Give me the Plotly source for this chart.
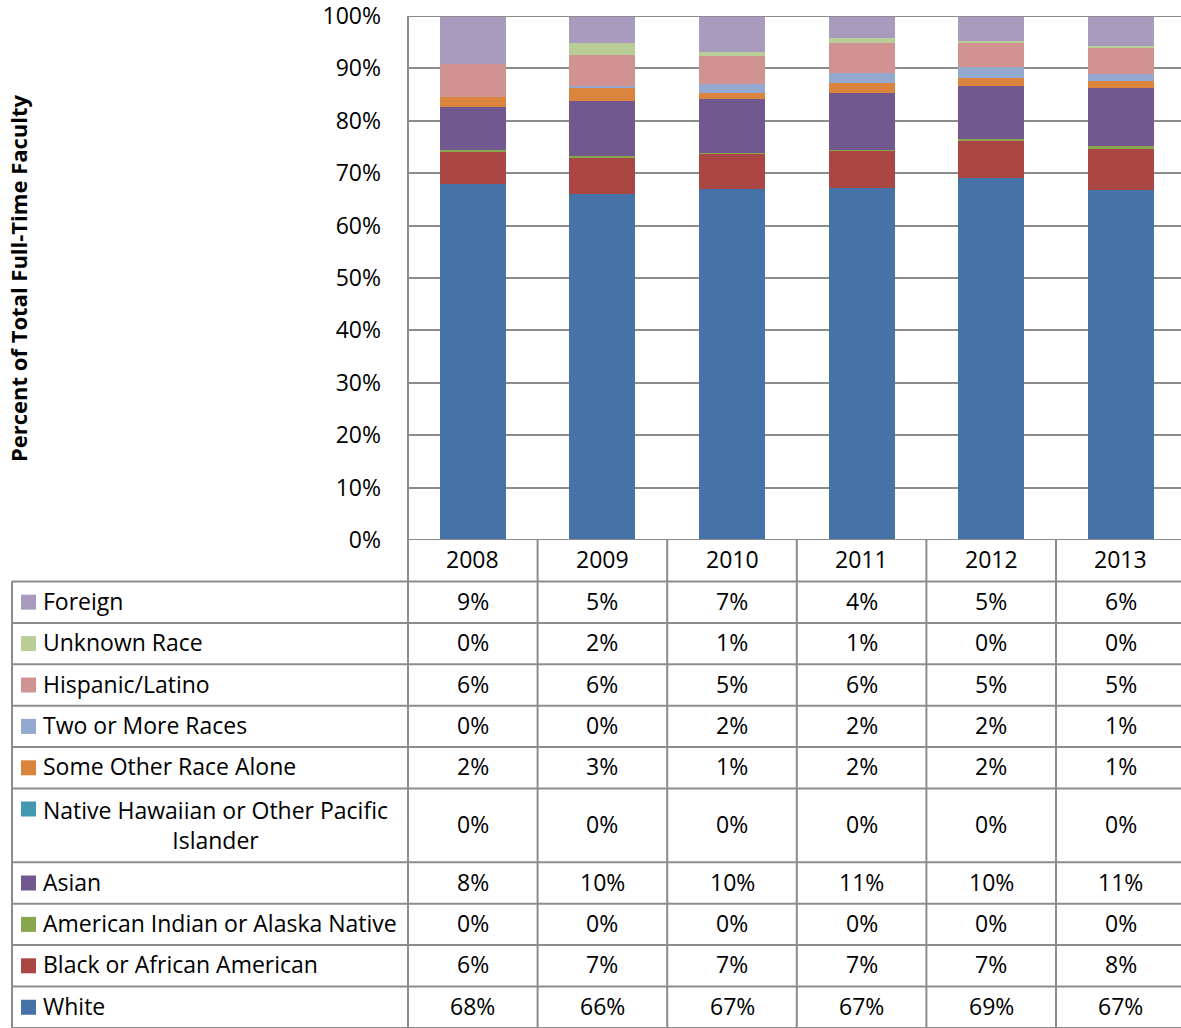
import plotly.graph_objects as go

years = ["2008", "2009", "2010", "2011", "2012", "2013"]

# Series values (percent of total full-time faculty), stacked bottom -> top
white    = [67.9, 66.0, 66.9, 67.1, 69.0, 66.8]
black    = [6.2, 6.9, 6.9, 7.3, 7.1, 7.9]
am_ind   = [0.3, 0.4, 0.1, 0.1, 0.4, 0.45]
asian    = [8.3, 10.4, 10.3, 10.9, 10.1, 11.1]
nh_pi    = [0.0, 0.0, 0.0, 0.0, 0.0, 0.0]
other    = [1.8, 2.7, 1.2, 1.8, 1.6, 1.3]
two_more = [0.0, 0.2, 1.6, 1.9, 2.1, 1.4]
hispanic = [6.3, 6.0, 5.3, 5.8, 4.6, 4.9]
unknown  = [0.0, 2.2, 0.9, 0.9, 0.3, 0.4]
foreign  = [9.2, 5.2, 6.9, 4.2, 4.8, 5.75]

series = [
    ("White", white, "#4572A7"),
    ("Black or African American", black, "#AA4643"),
    ("American Indian or Alaska Native", am_ind, "#89A54E"),
    ("Asian", asian, "#71588F"),
    ("Native Hawaiian or Other Pacific<br>Islander", nh_pi, "#4198AF"),
    ("Some Other Race Alone", other, "#DB843D"),
    ("Two or More Races", two_more, "#93A9CF"),
    ("Hispanic/Latino", hispanic, "#D19392"),
    ("Unknown Race", unknown, "#B9CD96"),
    ("Foreign", foreign, "#A99BBD"),
]

W, H = 1181, 1028
FONT = "Open Sans"
FS = 23
GRID = "#8c8c8c"

def px(x):
    return x / W

def py(y):
    return 1 - y / H

fig = go.Figure()
for name, vals, col in series:
    fig.add_trace(go.Bar(
        x=list(range(len(years))), y=vals, name=name,
        marker=dict(color=col, line=dict(width=0)),
        width=0.51, showlegend=False,
    ))

# plot area geometry (pixels)
PL, PT, PB = 408, 16, 540
COLW = 129.6
x_right = (W - PL) / COLW - 0.5

shapes = []
annotations = []

# Table row boundaries (pixels) - top to bottom
row_edges = [581.5, 622.9, 664.3, 705.7, 747.1, 788.5, 862.3, 903.7, 945.1, 986.5, 1028]
table_rows = list(reversed(series))  # Foreign at top ... White at bottom

line = dict(color=GRID, width=2)
for ye in row_edges:
    shapes.append(dict(type="line", xref="paper", yref="paper",
                       x0=px(12), x1=1, y0=py(ye), y1=py(ye), line=line, layer="above"))
shapes.append(dict(type="line", xref="paper", yref="paper",
                   x0=px(12), x1=px(12), y0=py(row_edges[0]), y1=py(1028), line=line))
shapes.append(dict(type="line", xref="paper", yref="paper",
                   x0=px(PL), x1=px(PL), y0=py(PT), y1=py(1028), line=line))
for i in range(1, len(years) + 1):
    xe = PL + COLW * i
    if xe < W:
        shapes.append(dict(type="line", xref="paper", yref="paper",
                           x0=px(xe), x1=px(xe), y0=py(PB), y1=py(1028), line=line))
for yv in (0, 100):
    shapes.append(dict(type="line", xref="paper", yref="y",
                       x0=px(PL), x1=1, y0=yv, y1=yv, line=line))

tfont = dict(family=FONT, size=FS, color="black")
YS = 1.5

# header (years)
for i, yr in enumerate(years):
    annotations.append(dict(x=i, y=py((PB + row_edges[0]) / 2), xref="x", yref="paper",
                            text=yr, showarrow=False, font=tfont, yshift=YS,
                            xanchor="center", yanchor="middle"))

# table rows
for r, (name, vals, col) in enumerate(table_rows):
    yc = (row_edges[r] + row_edges[r + 1]) / 2
    multi = "<br>" in name
    sy = 809 if multi else yc
    shapes.append(dict(type="rect", xref="paper", yref="paper",
                       x0=px(21), x1=px(36), y0=py(sy + 7.5), y1=py(sy - 7.5),
                       fillcolor=col, line=dict(width=0)))
    if multi:
        annotations.append(dict(x=px(41), y=py(row_edges[r] + 3), xref="paper", yref="paper",
                                text=name, showarrow=False, align="center", font=tfont,
                                xanchor="left", yanchor="top"))
    else:
        annotations.append(dict(x=px(41), y=py(yc), xref="paper", yref="paper",
                                text=name, showarrow=False, font=tfont, yshift=YS,
                                xanchor="left", yanchor="middle"))
    for i, v in enumerate(vals):
        annotations.append(dict(x=i, y=py(yc), xref="x", yref="paper",
                                text=f"{round(v):d}%", showarrow=False, font=tfont, yshift=YS,
                                xanchor="center", yanchor="middle"))

# y-axis title
annotations.append(dict(x=px(18), y=py((PT + PB) / 2), xref="paper", yref="paper",
                        text="<b>Percent of Total Full-Time Faculty</b>", textangle=-90,
                        showarrow=False, font=dict(family=FONT, size=22, color="black"),
                        xanchor="center", yanchor="middle"))

fig.update_layout(
    width=W, height=H, autosize=False,
    margin=dict(l=0, r=0, t=0, b=0, pad=0),
    paper_bgcolor="white", plot_bgcolor="white",
    barmode="stack", bargap=0,
    xaxis=dict(domain=[px(PL), 1], range=[-0.5, x_right], showticklabels=False,
               showgrid=False, zeroline=False, showline=False, fixedrange=True,
               automargin=False),
    yaxis=dict(domain=[py(PB), py(PT)], range=[0, 100], tick0=0, dtick=10,
               ticksuffix="%", showgrid=True, gridcolor=GRID, gridwidth=2,
               zeroline=False, showline=False, ticks="", ticklabelstandoff=26,
               ticklabeloverflow="allow", tickfont=tfont, fixedrange=True,
               automargin=False),
    shapes=shapes, annotations=annotations,
)

fig.write_html("out.html", config={"displayModeBar": False},
               post_script="document.body.style.margin='0';document.body.style.overflow='hidden';")
